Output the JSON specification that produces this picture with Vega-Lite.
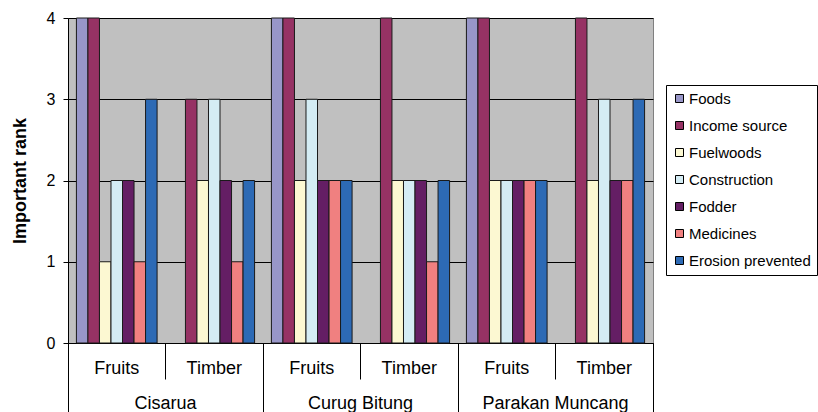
{
  "$schema": "https://vega.github.io/schema/vega-lite/v6.json",
  "width": 585,
  "height": 325,
  "autosize": {"type": "none"},
  "padding": {"left": 68, "top": 18, "right": 165, "bottom": 69},
  "background": "white",
  "config": {
    "font": "Liberation Sans",
    "view": {"fill": "#C0C0C0", "stroke": "#808080", "strokeWidth": 1}
  },
  "data": {
    "values": [
      {"village": "Cisarua", "group": "Cisarua|Fruits", "use": "Foods", "rank": 4},
      {"village": "Cisarua", "group": "Cisarua|Fruits", "use": "Income source", "rank": 4},
      {"village": "Cisarua", "group": "Cisarua|Fruits", "use": "Fuelwoods", "rank": 1},
      {"village": "Cisarua", "group": "Cisarua|Fruits", "use": "Construction", "rank": 2},
      {"village": "Cisarua", "group": "Cisarua|Fruits", "use": "Fodder", "rank": 2},
      {"village": "Cisarua", "group": "Cisarua|Fruits", "use": "Medicines", "rank": 1},
      {"village": "Cisarua", "group": "Cisarua|Fruits", "use": "Erosion prevented", "rank": 3},
      {"village": "Cisarua", "group": "Cisarua|Timber", "use": "Income source", "rank": 3},
      {"village": "Cisarua", "group": "Cisarua|Timber", "use": "Fuelwoods", "rank": 2},
      {"village": "Cisarua", "group": "Cisarua|Timber", "use": "Construction", "rank": 3},
      {"village": "Cisarua", "group": "Cisarua|Timber", "use": "Fodder", "rank": 2},
      {"village": "Cisarua", "group": "Cisarua|Timber", "use": "Medicines", "rank": 1},
      {"village": "Cisarua", "group": "Cisarua|Timber", "use": "Erosion prevented", "rank": 2},
      {"village": "Curug Bitung", "group": "Curug Bitung|Fruits", "use": "Foods", "rank": 4},
      {"village": "Curug Bitung", "group": "Curug Bitung|Fruits", "use": "Income source", "rank": 4},
      {"village": "Curug Bitung", "group": "Curug Bitung|Fruits", "use": "Fuelwoods", "rank": 2},
      {"village": "Curug Bitung", "group": "Curug Bitung|Fruits", "use": "Construction", "rank": 3},
      {"village": "Curug Bitung", "group": "Curug Bitung|Fruits", "use": "Fodder", "rank": 2},
      {"village": "Curug Bitung", "group": "Curug Bitung|Fruits", "use": "Medicines", "rank": 2},
      {"village": "Curug Bitung", "group": "Curug Bitung|Fruits", "use": "Erosion prevented", "rank": 2},
      {"village": "Curug Bitung", "group": "Curug Bitung|Timber", "use": "Income source", "rank": 4},
      {"village": "Curug Bitung", "group": "Curug Bitung|Timber", "use": "Fuelwoods", "rank": 2},
      {"village": "Curug Bitung", "group": "Curug Bitung|Timber", "use": "Construction", "rank": 2},
      {"village": "Curug Bitung", "group": "Curug Bitung|Timber", "use": "Fodder", "rank": 2},
      {"village": "Curug Bitung", "group": "Curug Bitung|Timber", "use": "Medicines", "rank": 1},
      {"village": "Curug Bitung", "group": "Curug Bitung|Timber", "use": "Erosion prevented", "rank": 2},
      {"village": "Parakan Muncang", "group": "Parakan Muncang|Fruits", "use": "Foods", "rank": 4},
      {"village": "Parakan Muncang", "group": "Parakan Muncang|Fruits", "use": "Income source", "rank": 4},
      {"village": "Parakan Muncang", "group": "Parakan Muncang|Fruits", "use": "Fuelwoods", "rank": 2},
      {"village": "Parakan Muncang", "group": "Parakan Muncang|Fruits", "use": "Construction", "rank": 2},
      {"village": "Parakan Muncang", "group": "Parakan Muncang|Fruits", "use": "Fodder", "rank": 2},
      {"village": "Parakan Muncang", "group": "Parakan Muncang|Fruits", "use": "Medicines", "rank": 2},
      {"village": "Parakan Muncang", "group": "Parakan Muncang|Fruits", "use": "Erosion prevented", "rank": 2},
      {"village": "Parakan Muncang", "group": "Parakan Muncang|Timber", "use": "Income source", "rank": 4},
      {"village": "Parakan Muncang", "group": "Parakan Muncang|Timber", "use": "Fuelwoods", "rank": 2},
      {"village": "Parakan Muncang", "group": "Parakan Muncang|Timber", "use": "Construction", "rank": 3},
      {"village": "Parakan Muncang", "group": "Parakan Muncang|Timber", "use": "Fodder", "rank": 2},
      {"village": "Parakan Muncang", "group": "Parakan Muncang|Timber", "use": "Medicines", "rank": 2},
      {"village": "Parakan Muncang", "group": "Parakan Muncang|Timber", "use": "Erosion prevented", "rank": 3}
    ]
  },
  "layer": [
    {
      "mark": {"type": "bar", "stroke": "#1a1a1a", "strokeWidth": 1},
      "encoding": {
        "x": {
          "field": "group",
          "type": "nominal",
          "sort": null,
          "scale": {"paddingInner": 0, "paddingOuter": 0},
          "axis": {
            "orient": "bottom",
            "title": null,
            "labelExpr": "split(datum.label, '|')[1]",
            "labelAngle": 0,
            "labelFontSize": 18,
            "labelColor": "black",
            "labelBaseline": "alphabetic",
            "labelPadding": -6,
            "tickSize": 36,
            "tickColor": "black",
            "bandPosition": 1,
            "tickExtra": true,
            "domainColor": "black",
            "grid": false
          }
        },
        "xOffset": {
          "field": "use",
          "type": "nominal",
          "scale": {
            "domain": ["Foods", "Income source", "Fuelwoods", "Construction", "Fodder", "Medicines", "Erosion prevented"],
            "paddingInner": 0,
            "paddingOuter": 0.73
          }
        },
        "y": {
          "field": "rank",
          "type": "quantitative",
          "scale": {"domain": [0, 4], "nice": false},
          "axis": {
            "title": "Important rank",
            "titleFontSize": 18,
            "titleFontWeight": "bold",
            "titleColor": "black",
            "titlePadding": 17,
            "values": [0, 1, 2, 3, 4],
            "format": "d",
            "labelFontSize": 16,
            "labelColor": "black",
            "labelPadding": 8,
            "tickSize": 5,
            "tickColor": "black",
            "domainColor": "black",
            "grid": true,
            "gridColor": "black",
            "gridOpacity": 1
          }
        },
        "color": {
          "field": "use",
          "type": "nominal",
          "scale": {
            "domain": ["Foods", "Income source", "Fuelwoods", "Construction", "Fodder", "Medicines", "Erosion prevented"],
            "range": ["#9896C8", "#963264", "#FCF8D2", "#D4ECF4", "#641E64", "#F08080", "#2D6AB5"]
          },
          "legend": {
            "title": null,
            "orient": "none",
            "legendX": 598,
            "legendY": 67,
            "strokeColor": "black",
            "fillColor": "white",
            "padding": 6,
            "symbolType": "square",
            "symbolSize": 64,
            "symbolStrokeColor": "black",
            "symbolStrokeWidth": 1,
            "labelFontSize": 15,
            "labelColor": "black",
            "rowPadding": 11,
            "labelOffset": 2,
            "symbolOffset": 0
          }
        }
      }
    },
    {
      "mark": {"type": "bar", "opacity": 0},
      "encoding": {
        "x": {
          "field": "village",
          "type": "nominal",
          "scale": {"paddingInner": 0, "paddingOuter": 0},
          "axis": {
            "orient": "bottom",
            "title": null,
            "labelAngle": 0,
            "labelFontSize": 18,
            "labelColor": "black",
            "labelBaseline": "alphabetic",
            "labelPadding": -5,
            "tickSize": 70,
            "tickColor": "black",
            "bandPosition": 1,
            "tickExtra": true,
            "domain": false,
            "grid": false
          }
        },
        "y": {"field": "rank", "type": "quantitative"}
      }
    }
  ],
  "resolve": {"scale": {"x": "independent"}, "axis": {"x": "independent"}}
}
